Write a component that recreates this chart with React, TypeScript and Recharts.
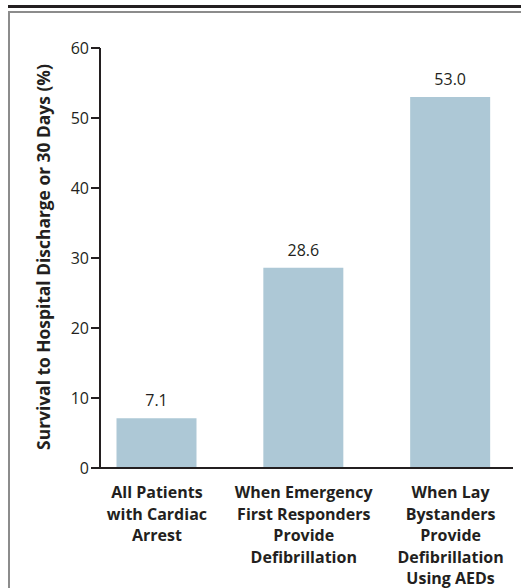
import { BarChart, Bar, XAxis, YAxis, LabelList, Label } from "recharts";

const categories = [
  ["All Patients", "with Cardiac", "Arrest"],
  ["When Emergency", "First Responders", "Provide", "Defibrillation"],
  ["When Lay", "Bystanders", "Provide", "Defibrillation", "Using AEDs"],
];
const survival = [7.1, 28.6, 53.0];
const yTicks = [0, 10, 20, 30, 40, 50, 60];
const yTitle = "Survival to Hospital Discharge or 30 Days (%)";

const data = categories.map((lines, i) => ({ name: lines.join(" "), lines, value: survival[i] }));

const INK = "#231f20";
const FONT = "'Open Sans', sans-serif";

function CategoryTick(props: any) {
  const { x, y, index } = props;
  const lines = categories[index] ?? [];
  return (
    <text x={x} y={y} textAnchor="middle" fill={INK} fontFamily={FONT} fontSize={16} fontWeight={700}>
      {lines.map((line, i) => (
        <tspan key={i} x={x} dy={i === 0 ? 30 : 21.5}>
          {line}
        </tspan>
      ))}
    </text>
  );
}

function YTitle(props: any) {
  const { viewBox } = props;
  const cx = viewBox.x + viewBox.width - 50;
  const cy = viewBox.y + viewBox.height / 2 - 1;
  return (
    <text
      x={cx}
      y={cy}
      transform={`rotate(-90, ${cx}, ${cy})`}
      textAnchor="middle"
      fill={INK}
      fontFamily={FONT}
      fontSize={17.4}
      fontWeight={700}
    >
      {yTitle}
    </text>
  );
}

export default function App() {
  return (
    <div style={{ position: "absolute", left: 0, top: 0, width: 521, height: 588, background: "#fff", overflow: "hidden" }}>
      <div style={{ position: "absolute", left: 8, top: 5, right: 0, height: 2.5, background: INK }} />
      <div
        style={{
          position: "absolute",
          left: 8,
          top: 11,
          width: 600,
          height: 700,
          borderTop: "2px solid #8c8c8c",
          borderLeft: "2px solid #8c8c8c",
        }}
      />
      <div style={{ position: "absolute", left: 0, top: 0 }}>
        <BarChart width={521} height={588} data={data} margin={{ top: 48, right: 8, bottom: 0, left: 40 }}>
          <XAxis
            dataKey="name"
            height={120}
            tick={<CategoryTick />}
            tickLine={false}
            tickSize={0}
            tickMargin={0}
            interval={0}
            padding={{ left: -16.5, right: -11 }}
            axisLine={{ stroke: INK, strokeWidth: 2 }}
          />
          <YAxis
            width={60}
            domain={[0, 60]}
            ticks={yTicks}
            interval={0}
            tickSize={9}
            tickMargin={2}
            axisLine={{ stroke: INK, strokeWidth: 2 }}
            tickLine={{ stroke: INK, strokeWidth: 2 }}
            tick={{ fill: INK, fontFamily: FONT, fontSize: 16 }}
          >
            <Label content={<YTitle />} />
          </YAxis>
          <Bar dataKey="value" fill="#adc8d6" barSize={80} isAnimationActive={false}>
            <LabelList
              dataKey="value"
              position="top"
              offset={12}
              formatter={(v: any) => Number(v).toFixed(1)}
              style={{ fill: INK, fontFamily: FONT, fontSize: 16 }}
            />
          </Bar>
        </BarChart>
      </div>
    </div>
  );
}
